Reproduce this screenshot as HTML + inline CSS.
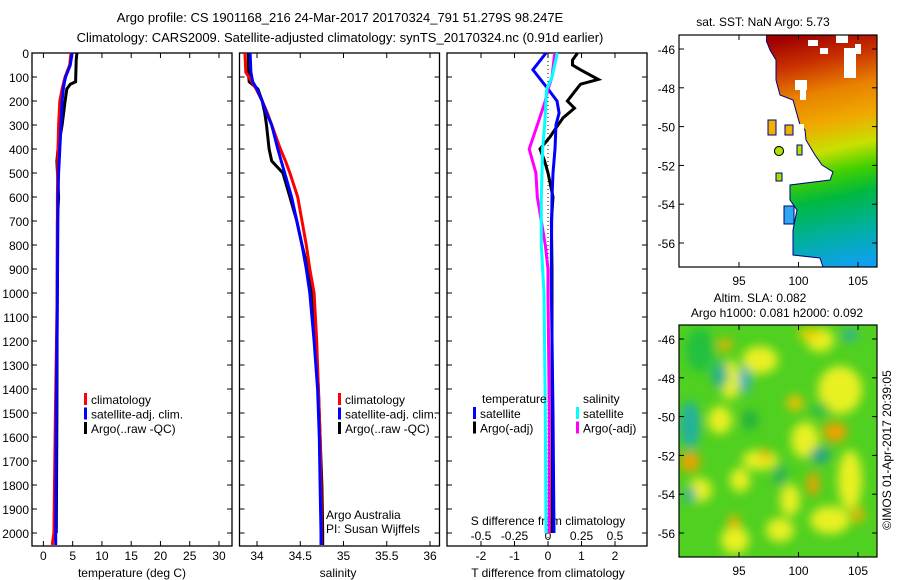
<!DOCTYPE html>
<html><head><meta charset="utf-8"><style>
html,body{margin:0;padding:0;background:#fff;width:900px;height:580px;overflow:hidden}
svg{display:block;font-family:"Liberation Sans",sans-serif;}
text{font-size:12px;fill:#000}
</style></head><body>
<svg id="chart" width="900" height="580" viewBox="0 0 900 580">
<text x="340" y="22" text-anchor="middle" style="font-size:13px">Argo profile: CS 1901168_216 24-Mar-2017 20170324_791 51.279S 98.247E</text>
<text x="340" y="42" text-anchor="middle" style="font-size:13px">Climatology: CARS2009. Satellite-adjusted climatology: synTS_20170324.nc (0.91d earlier)</text>
<g id="plots"></g>
</svg>
<script>
// ---- data ----
const tempDepth = [0,50,100,120,150,200,300,400,450,500,600,800,1000,1500,2000,2050];
const tempClim  = [4.7,4.5,3.7,3.5,3.2,2.8,2.6,2.5,2.45,2.45,2.4,2.4,2.35,2.05,1.8,1.5];
const tempSat   = [4.9,4.6,3.8,3.6,3.4,3.2,3.0,2.8,2.7,2.6,2.5,2.45,2.4,2.2,2.1,2.1];
const argoTDepth= [0,30,120,130,150,200,300,400,450,600,700,1000,1500,2000];
const argoT     = [5.73,5.6,5.5,4.6,4.0,3.7,3.2,2.5,2.3,2.6,2.4,2.35,2.3,2.2];
const salDepth  = [0,80,120,150,200,250,300,400,450,500,600,700,800,900,1000,1200,1400,1600,1800,2000,2050];
const salClim   = [33.86,33.87,33.94,33.99,34.06,34.12,34.17,34.27,34.33,34.38,34.47,34.52,34.57,34.61,34.66,34.69,34.71,34.73,34.74,34.745,34.745];
const salSat    = [33.92,33.93,33.95,34.0,34.06,34.11,34.17,34.24,34.28,34.32,34.40,34.46,34.52,34.57,34.61,34.66,34.70,34.72,34.73,34.74,34.74];
const argoS     = [33.90,33.90,33.91,34.01,34.06,34.09,34.11,34.14,34.17,34.30,34.38,34.46,34.52,34.59,34.63,34.68,34.71,34.73,34.75,34.76,34.76];
const diffTDepth= [0,70,150,200,250,300,400,500,600,800,1000,1500,2000];
const satTdiff  = [-0.06,-0.45,0.0,0.27,0.33,0.24,0.21,0.15,0.12,0.1,0.1,0.15,0.18];
const argoTdDepth=[0,30,50,70,110,130,160,200,230,270,320,350,400,450,500,600,700,900,1200,1600,2000];
const argoTdiff = [0.88,0.73,0.73,0.97,1.5,0.97,0.8,0.58,0.79,0.45,0.2,0.06,-0.24,-0.1,0.0,0.15,0.1,0.12,0.12,0.13,0.12];
const diffSDepth= [0,100,150,200,250,300,400,500,600,700,800,900,1000,1500,2000];
const satSdiff  = [0.07,0.03,-0.01,-0.015,-0.02,-0.025,-0.04,-0.045,-0.05,-0.05,-0.05,-0.04,-0.03,-0.02,-0.015];
const argoSdiff = [0.05,0.03,0.0,-0.02,-0.05,-0.08,-0.14,-0.09,-0.08,-0.05,-0.02,0.0,0.0,0.01,0.01];
const depthTicks = [0,100,200,300,400,500,600,700,800,900,1000,1100,1200,1300,1400,1500,1600,1700,1800,1900,2000];
const tempTicks = [0,5,10,15,20,25,30];
const salTicks = [34,34.5,35,35.5,36];
const tdTicks = [-2,-1,0,1,2];
const sdTicks = [-0.5,-0.25,0,0.25,0.5];
const latTicks = [-46,-48,-50,-52,-54,-56];
const lonTicks = [95,100,105];

const NS='http://www.w3.org/2000/svg';
const root=document.getElementById('plots');
function el(tag,attrs,parent,txt){const e=document.createElementNS(NS,tag);for(const k in attrs)e.setAttribute(k,attrs[k]);if(txt!==undefined)e.textContent=txt;(parent||root).appendChild(e);return e;}
const TOP=53, BOT=546;
const yD=d=>53+d*0.24;
function lin(d0,d1,p0,p1){return v=>p0+(v-d0)*(p1-p0)/(d1-d0);}
const xT=lin(0,30,43.4,219);
const xS=lin(34,36,257,430);
const xTd=lin(0,1,548,581.5);
const xSd=lin(0,0.25,548,581.5);

function frame(x0,name){
  const r=el('rect',{x:x0,y:TOP,width:200,height:BOT-TOP,fill:'none',stroke:'#000','stroke-width':1.3});
  
  depthTicks.forEach(d=>{el('line',{x1:x0,x2:x0+5,y1:yD(d),y2:yD(d),stroke:'#000'});el('line',{x1:x0+200,x2:x0+195,y1:yD(d),y2:yD(d),stroke:'#000'});});
}
function line(xs,ds,fx,color,name,w){
  const pts=xs.map((v,i)=>fx(v).toFixed(1)+','+yD(ds[i]).toFixed(1)).join(' ');
  const p=el('polyline',{points:pts,fill:'none',stroke:color,'stroke-width':w||3,'stroke-linejoin':'miter'});
  
  
}
function legend(x,y,items,name){
  const g=el('g',{});
  items.forEach((it,i)=>{el('rect',{x:x,y:y+i*14.5-6,width:3,height:12,fill:it[0]},g);el('text',{x:x+7,y:y+i*14.5+5},g,it[1]);});
}
// panel 1
frame(32,'temperature-panel');
depthTicks.forEach(d=>{const t=el('text',{x:29,y:yD(d)+5,'text-anchor':'end'},root,String(d));});
tempTicks.forEach(v=>{el('line',{x1:xT(v),x2:xT(v),y1:BOT,y2:BOT-5,stroke:'#000'});el('line',{x1:xT(v),x2:xT(v),y1:TOP,y2:TOP+5,stroke:'#000'});el('text',{x:xT(v),y:560,'text-anchor':'middle'},root,String(v));});
el('text',{x:132,y:577,'text-anchor':'middle',},root,'temperature (deg C)');
line(argoT,argoTDepth,xT,'#000','argo-temperature-line');
line(tempClim,tempDepth,xT,'#f00','climatology-temperature-line');
line(tempSat,tempDepth,xT,'#00f','satellite-temperature-line');
legend(84,399,[['#f00','climatology'],['#00f','satellite-adj. clim.'],['#000','Argo(..raw -QC)']],'temperature-legend');
// panel 2
frame(239.5,'salinity-panel');
salTicks.forEach(v=>{el('line',{x1:xS(v),x2:xS(v),y1:BOT,y2:BOT-5,stroke:'#000'});el('line',{x1:xS(v),x2:xS(v),y1:TOP,y2:TOP+5,stroke:'#000'});el('text',{x:xS(v),y:560,'text-anchor':'middle'},root,String(v));});
el('text',{x:338,y:577,'text-anchor':'middle',},root,'salinity');
line(argoS,salDepth,xS,'#000','argo-salinity-line');
line(salClim,salDepth,xS,'#f00','climatology-salinity-line');
line(salSat,salDepth,xS,'#00f','satellite-salinity-line');
legend(338,399,[['#f00','climatology'],['#00f','satellite-adj. clim.'],['#000','Argo(..raw -QC)']],'salinity-legend');
el('text',{x:326,y:519,},root,'Argo Australia');
el('text',{x:326,y:533,},root,'PI: Susan Wijffels');
// panel 3
frame(447,'difference-panel');
tdTicks.forEach(v=>{el('line',{x1:xTd(v),x2:xTd(v),y1:BOT,y2:BOT-5,stroke:'#000'});el('line',{x1:xTd(v),x2:xTd(v),y1:TOP,y2:TOP+5,stroke:'#000'});el('text',{x:xTd(v),y:560,'text-anchor':'middle'},root,String(v));});
sdTicks.forEach(v=>{el('text',{x:xSd(v),y:540,'text-anchor':'middle'},root,String(v));});
el('text',{x:548,y:525,'text-anchor':'middle',},root,'S difference from climatology');
el('text',{x:548,y:577,'text-anchor':'middle',},root,'T difference from climatology');
el('line',{x1:xTd(0),x2:xTd(0),y1:TOP,y2:BOT,stroke:'#000','stroke-dasharray':'1,3',});
line(argoTdiff,argoTdDepth,xTd,'#000','argo-t-difference-line');
line(satTdiff,diffTDepth,xTd,'#00f','satellite-t-difference-line');
line(argoSdiff,diffSDepth,xSd,'#f0f','argo-s-difference-line');
line(satSdiff,diffSDepth,xSd,'#0ff','satellite-s-difference-line');
el('text',{x:482,y:403},root,'temperature');
el('text',{x:583,y:403},root,'salinity');
legend(473,413,[['#00f','satellite'],['#000','Argo(-adj)']],'temperature-difference-legend');
legend(576,413,[['#0ff','satellite'],['#f0f','Argo(-adj)']],'salinity-difference-legend');

// map axes
const xLon=lin(95,105,739,858);
function mapAxes(y0,y1,lat46,lat56,name){
  const yLat=lin(-46,-56,lat46,lat56);
  el('rect',{x:679,y:y0,width:198,height:y1-y0,fill:'none',stroke:'#000','stroke-width':1.2,});
  latTicks.forEach(v=>{el('line',{x1:679,x2:684,y1:yLat(v),y2:yLat(v),stroke:'#000'});el('line',{x1:877,x2:872,y1:yLat(v),y2:yLat(v),stroke:'#000'});el('text',{x:675,y:yLat(v)+5,'text-anchor':'end'},root,String(v));});
  lonTicks.forEach(v=>{el('line',{x1:xLon(v),x2:xLon(v),y1:y0,y2:y0+5,stroke:'#000'});el('line',{x1:xLon(v),x2:xLon(v),y1:y1,y2:y1-5,stroke:'#000'});el('text',{x:xLon(v),y:y1+18,'text-anchor':'middle'},root,String(v));});
}
</script>
<script>
// map drawings (static imagery)
const g1=el('g',{});
const defs=el('defs',{});
const lg=el('linearGradient',{id:'sst',gradientUnits:'userSpaceOnUse',x1:800,y1:35,x2:850,y2:267},defs);
[[0,'#a00000'],[0.12,'#c83000'],[0.25,'#e88000'],[0.38,'#f0a800'],[0.5,'#c8e000'],[0.6,'#40d000'],[0.7,'#00b840'],[0.85,'#00b0a0'],[1,'#10a0f0']].forEach(s=>el('stop',{offset:s[0],'stop-color':s[1]},lg));
el('clipPath',{id:'m1'},defs);
el('polygon',{points:'766,35 877,35 877,267 823,267 820,258 793,255 793,230 797,210 790,200 790,185 830,180 833,172 822,165 815,155 806,140 805,130 800,125 793,100 780,95 776,80 776,60 770,50 766,40',fill:'url(#sst)',stroke:'#000080','stroke-width':1},g1);
[[797,124,7,12],[770,90,6,12],[778,100,8,16],[785,110,6,12],[770,110,8,18],[836,35,12,8],[846,49,10,8],[844,48,12,30],[855,44,6,10],[808,40,10,6],[820,48,8,6],[795,80,12,10],[800,90,6,10],[805,153,7,12],[780,172,10,10]].forEach(r=>el('rect',{x:r[0],y:r[1],width:r[2],height:r[3],fill:'#fff'},g1));
[[768,120,8,15,'#f0b000'],[785,125,8,10,'#f0b000'],[776,173,6,8,'#a0e000'],[797,145,5,10,'#b0e000'],[784,206,10,18,'#30a8f0']].forEach(r=>el('rect',{x:r[0],y:r[1],width:r[2],height:r[3],fill:r[4],stroke:'#000080','stroke-width':1},g1));
el('circle',{cx:779,cy:151,r:4.5,fill:'#b0e000',stroke:'#000','stroke-width':1,},g1);
el('rect',{x:679,y:35,width:87,height:232,fill:'#fff'},g1);
el('circle',{cx:779,cy:151,r:4.5,fill:'#b0e000',stroke:'#000','stroke-width':1},g1);
mapAxes(35,267,49,243,'sst-map-frame');
el('text',{x:763,y:26,'text-anchor':'middle',},root,'sat. SST: NaN Argo: 5.73');

// SLA map
const f=el('filter',{id:'bl',x:'-50%',y:'-50%',width:'200%',height:'200%'},defs);
el('feGaussianBlur',{stdDeviation:5},f);
const cp=el('clipPath',{id:'m2'},defs);el('rect',{x:679,y:325,width:198,height:232},cp);
const g2=el('g',{'clip-path':'url(#m2)',});
el('rect',{x:679,y:325,width:198,height:232,fill:'#50d020'},g2);
const gb=el('g',{filter:'url(#bl)'},g2);
[[700,350,14,22,'#20c040'],[730,380,10,20,'#e8f020'],[760,360,18,14,'#e8f020'],[840,390,22,24,'#e8f020'],[720,420,12,14,'#e8f020'],[805,440,14,18,'#e8f020'],[760,460,18,10,'#e8f020'],[700,490,12,12,'#e8f020'],[850,480,12,30,'#e8f020'],[830,520,20,14,'#e8f020'],[735,540,14,14,'#e8f020'],[780,530,14,12,'#e8f020'],[820,340,14,12,'#e8f020'],[740,480,10,12,'#e8f020'],[790,500,10,16,'#e8f020'],
 [725,345,7,6,'#f0b000'],[810,334,12,6,'#f0d000'],[835,432,12,10,'#f0a000'],[690,462,10,10,'#f0a000'],[813,484,6,12,'#f0a000'],[734,522,6,7,'#f0b000'],[858,515,6,8,'#f0b000'],[795,403,8,8,'#f0c000'],[765,455,5,6,'#f0b000'],
 [720,375,8,14,'#20b090'],[690,425,10,24,'#20b0a0'],[745,380,6,14,'#40b0c0'],[690,495,6,8,'#20b0a0'],[820,455,10,8,'#20a090'],[850,335,8,6,'#30b0a0'],[780,475,6,12,'#20b060'],[750,420,8,10,'#20b040'],[820,410,10,8,'#30c040']].forEach(e=>el('ellipse',{cx:e[0],cy:e[1],rx:e[2],ry:e[3],fill:e[4]},gb));
mapAxes(325,557,339,533,'sla-map-frame');
el('text',{x:760,y:302,'text-anchor':'middle',},root,'Altim. SLA: 0.082');
el('text',{x:777,y:317,'text-anchor':'middle',},root,'Argo h1000: 0.081 h2000: 0.092');
el('text',{x:891,y:450,'text-anchor':'middle',transform:'rotate(-90 891 450)',},root,'©IMOS 01-Apr-2017 20:39:05');
</script>
</body></html>
